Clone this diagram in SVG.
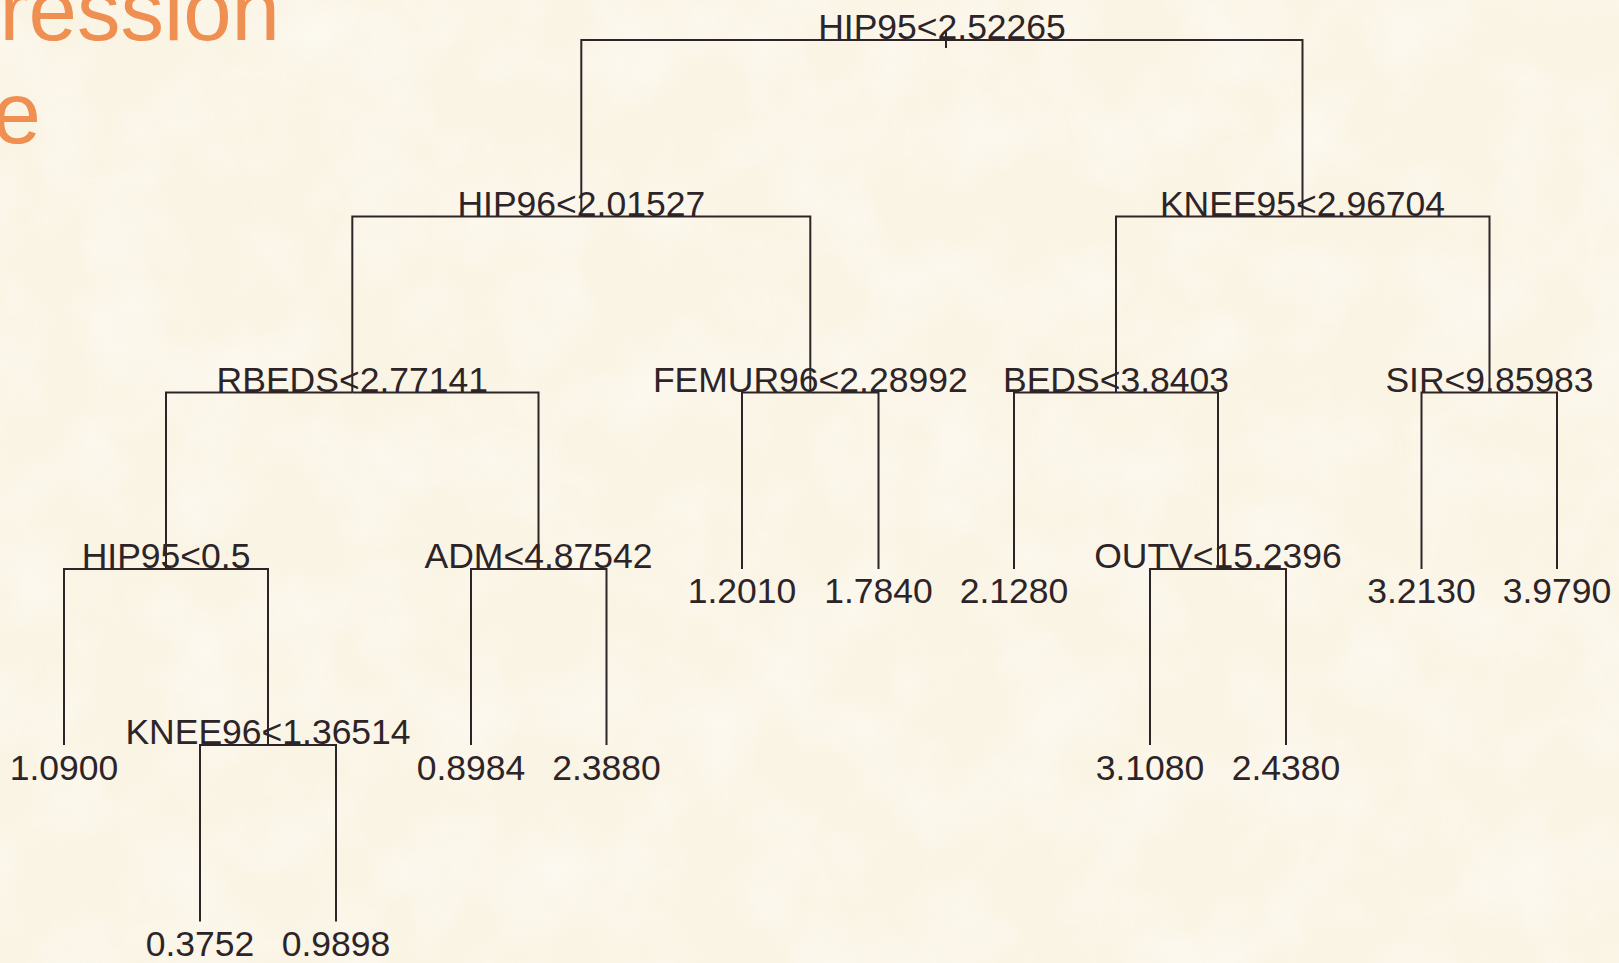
<svg xmlns="http://www.w3.org/2000/svg" width="1619" height="963" viewBox="0 0 1619 963">
  <defs>
    <filter id="paper" x="0" y="0" width="100%" height="100%">
      <feTurbulence type="fractalNoise" baseFrequency="0.012" numOctaves="3" seed="7" result="n"/>
      <feColorMatrix type="matrix" values="0 0 0 0 1  0 0 0 0 1  0 0 0 0 1  0 0 0 -1.6 1.0" result="w"/>
      <feComposite in="w" in2="SourceGraphic" operator="in"/>
    </filter>
    <style>
      .edge { fill: none; stroke: #2e2428; stroke-width: 2; }
      .lbl { font-family: "Liberation Sans", Arial, sans-serif; font-size: 35.5px; fill: #2d2428; text-anchor: middle; }
      .title { font-family: "Liberation Sans", Arial, sans-serif; font-size: 87px; fill: #ef8f51; text-anchor: end; }
    </style>
  </defs>
  <rect width="1619" height="963" fill="#faf4e4"/>
  <rect width="1619" height="963" fill="#fdf9ef" opacity="0.55" filter="url(#paper)"/>

  <g id="title">
    <text class="title" x="280" y="40">ression</text>
    <text class="title" x="41" y="143">e</text>
  </g>

  <g id="connectors">
    <path class="edge" d="M946,31 V48"/>
    <path class="edge" d="M946,40 H581.3 V216.5"/>
    <path class="edge" d="M946,40 H1302.5 V216.5"/>
    <path class="edge" d="M581.3,216.5 H352.3 V392.5"/>
    <path class="edge" d="M581.3,216.5 H810.3 V392.5"/>
    <path class="edge" d="M1302.5,216.5 H1116 V392.5"/>
    <path class="edge" d="M1302.5,216.5 H1489.5 V392.5"/>
    <path class="edge" d="M352.3,392.5 H166 V569"/>
    <path class="edge" d="M352.3,392.5 H538.5 V569"/>
    <path class="edge" d="M810.3,392.5 H742 V569"/>
    <path class="edge" d="M810.3,392.5 H878.5 V569"/>
    <path class="edge" d="M1116,392.5 H1014 V569"/>
    <path class="edge" d="M1116,392.5 H1218 V569"/>
    <path class="edge" d="M1489.5,392.5 H1421.5 V569"/>
    <path class="edge" d="M1489.5,392.5 H1557 V569"/>
    <path class="edge" d="M166,569 H64 V745"/>
    <path class="edge" d="M166,569 H268 V745"/>
    <path class="edge" d="M538.5,569 H471 V745"/>
    <path class="edge" d="M538.5,569 H606.5 V745"/>
    <path class="edge" d="M1218,569 H1150 V745"/>
    <path class="edge" d="M1218,569 H1286 V745"/>
    <path class="edge" d="M268,745 H200 V921.5"/>
    <path class="edge" d="M268,745 H336 V921.5"/>
  </g>

  <g id="n-root"><text class="lbl" x="942" y="39">HIP95&lt;2.52265</text></g>
  <g id="n-hip96"><text class="lbl" x="581.3" y="215.5">HIP96&lt;2.01527</text></g>
  <g id="n-knee95"><text class="lbl" x="1302.5" y="215.5">KNEE95&lt;2.96704</text></g>
  <g id="n-rbeds"><text class="lbl" x="352.3" y="391.5">RBEDS&lt;2.77141</text></g>
  <g id="n-femur96"><text class="lbl" x="810.3" y="391.5">FEMUR96&lt;2.28992</text></g>
  <g id="n-beds"><text class="lbl" x="1116" y="391.5">BEDS&lt;3.8403</text></g>
  <g id="n-sir"><text class="lbl" x="1489.5" y="391.5">SIR&lt;9.85983</text></g>
  <g id="n-hip95b"><text class="lbl" x="166" y="568">HIP95&lt;0.5</text></g>
  <g id="n-adm"><text class="lbl" x="538.5" y="568">ADM&lt;4.87542</text></g>
  <g id="n-outv"><text class="lbl" x="1218" y="568">OUTV&lt;15.2396</text></g>
  <g id="n-knee96"><text class="lbl" x="268" y="744">KNEE96&lt;1.36514</text></g>

  <g id="leaf-1"><text class="lbl" x="64" y="780">1.0900</text></g>
  <g id="leaf-2"><text class="lbl" x="200" y="956">0.3752</text></g>
  <g id="leaf-3"><text class="lbl" x="336" y="956">0.9898</text></g>
  <g id="leaf-4"><text class="lbl" x="471" y="780">0.8984</text></g>
  <g id="leaf-5"><text class="lbl" x="606.5" y="780">2.3880</text></g>
  <g id="leaf-6"><text class="lbl" x="742" y="603">1.2010</text></g>
  <g id="leaf-7"><text class="lbl" x="878.5" y="603">1.7840</text></g>
  <g id="leaf-8"><text class="lbl" x="1014" y="603">2.1280</text></g>
  <g id="leaf-9"><text class="lbl" x="1150" y="780">3.1080</text></g>
  <g id="leaf-10"><text class="lbl" x="1286" y="780">2.4380</text></g>
  <g id="leaf-11"><text class="lbl" x="1421.5" y="603">3.2130</text></g>
  <g id="leaf-12"><text class="lbl" x="1557" y="603">3.9790</text></g>
</svg>
